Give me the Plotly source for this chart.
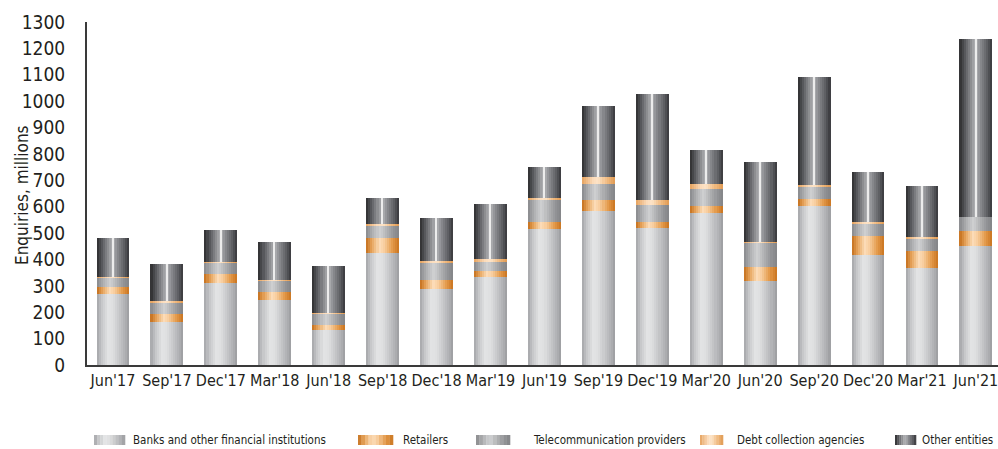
import plotly.graph_objects as go

categories = ["Jun'17", "Sep'17", "Dec'17", "Mar'18", "Jun'18", "Sep'18", "Dec'18", "Mar'19",
              "Jun'19", "Sep'19", "Dec'19", "Mar'20", "Jun'20", "Sep'20", "Dec'20", "Mar'21", "Jun'21"]

banks = [269, 164, 311, 246, 133, 424, 288, 334, 516, 584, 519, 576, 318, 603, 417, 369, 452]
retailers = [27, 29, 35, 32, 19, 57, 34, 22, 26, 41, 23, 27, 53, 26, 72, 63, 56]
telecom = [34, 43, 41, 44, 45, 49, 66, 36, 87, 61, 64, 65, 95, 49, 49, 49, 53]
debt = [2, 7, 2, 1, 1, 5, 6, 11, 5, 27, 19, 18, 1, 4, 4, 5, 1]
other = [148, 140, 123, 143, 177, 98, 163, 207, 116, 269, 402, 129, 303, 410, 190, 193, 674]

series_names = ["Banks and other financial institutions", "Retailers", "Telecommunication providers",
                "Debt collection agencies", "Other entities"]
series_values = [banks, retailers, telecom, debt, other]
y_title = "Enquiries, millions"

# gradient stops across the bar width (fraction, colour)
gradients = [
    [(0.0, "#a4a5a8"), (0.15, "#c6c7c9"), (0.35, "#e3e4e5"), (0.5, "#dedfe0"), (0.72, "#c3c4c6"), (0.9, "#acadb0"), (1.0, "#9a9b9e")],
    [(0.0, "#c46f1c"), (0.18, "#e6a45c"), (0.4, "#fcdcb8"), (0.55, "#f7cc9c"), (0.8, "#e29848"), (1.0, "#c97520")],
    [(0.0, "#88898c"), (0.25, "#b8b9bb"), (0.42, "#d0d1d2"), (0.6, "#b4b5b7"), (0.85, "#909194"), (1.0, "#838487")],
    [(0.0, "#e5a25e"), (0.35, "#fbdcbc"), (0.5, "#fde4c8"), (0.75, "#f0bb82"), (1.0, "#e09a52")],
    [(0.0, "#2c2c2e"), (0.18, "#5e5f63"), (0.42, "#a3a4a7"), (0.5, "#b0b1b4"), (0.62, "#8e8f93"), (0.85, "#5e5f63"), (1.0, "#37373a")],
]

BAR_W = 0.61
NSTRIP = 16


def hex2rgb(h):
    h = h.lstrip("#")
    return tuple(int(h[i:i + 2], 16) for i in (0, 2, 4))


def interp(stops, t):
    for (t0, c0), (t1, c1) in zip(stops[:-1], stops[1:]):
        if t0 <= t <= t1:
            a = 0 if t1 == t0 else (t - t0) / (t1 - t0)
            r0, g0, b0 = hex2rgb(c0)
            r1, g1, b1 = hex2rgb(c1)
            return "rgb(%d,%d,%d)" % (round(r0 + (r1 - r0) * a), round(g0 + (g1 - g0) * a), round(b0 + (b1 - b0) * a))
    return stops[-1][1]


fig = go.Figure()

base = [0] * len(categories)
for name, vals, stops in zip(series_names, series_values, gradients):
    sw = BAR_W / NSTRIP
    for k in range(NSTRIP):
        t = (k + 0.5) / NSTRIP
        fig.add_trace(go.Bar(
            x=categories, y=vals, base=base,
            width=[sw] * len(categories), offset=[-BAR_W / 2 + k * sw] * len(categories),
            marker=dict(color=interp(stops, t), line=dict(width=0)),
            name=name, showlegend=False, hoverinfo="skip",
        ))
    if name == "Other entities":
        hw = 0.025
        fig.add_trace(go.Bar(
            x=categories, y=vals, base=base,
            width=[hw] * len(categories), offset=[-0.015] * len(categories),
            marker=dict(color="#ececec", line=dict(width=0)),
            name=name, showlegend=False, hoverinfo="skip",
        ))
    base = [b + v for b, v in zip(base, vals)]

FONT = "DejaVu Sans Condensed, DejaVu Sans, sans-serif"
TXT = "#231f20"

W, H = 998, 449
PL, PT, PB = 87, 22, 365


def px(x):
    return (x - PL) / (W - PL)


def py(y):
    return (PB - y) / (PB - PT)


# manual legend (gradient swatches + labels)
legend_items = [
    (94, 31, 131),
    (358, 35, 401),
    (476, 34, 531),
    (700, 23, 735),
    (895, 21, 920),
]
shapes = []
annotations = []
for (x0, w, tx), name, stops in zip(legend_items, series_names, gradients):
    n = 10
    for k in range(n):
        xa = x0 + w * k / n
        xb = x0 + w * (k + 1) / n + 0.3
        shapes.append(dict(type="rect", xref="paper", yref="paper",
                           x0=px(xa), x1=px(xb), y0=py(445), y1=py(435),
                           fillcolor=interp(stops, (k + 0.5) / n), line=dict(width=0), layer="above"))
    annotations.append(dict(text=name, xref="paper", yref="paper",
                            x=px(tx), y=py(440),
                            xanchor="left", yanchor="middle", showarrow=False,
                            font=dict(family=FONT, size=11.5, color=TXT)))

annotations.append(dict(text=y_title, xref="paper", yref="paper", x=px(22), y=py(195),
                        xanchor="center", yanchor="middle", textangle=-90, showarrow=False,
                        font=dict(family=FONT, size=17, color=TXT)))

fig.update_layout(
    width=W, height=H,
    margin=dict(l=PL, r=0, t=PT, b=H - PB),
    paper_bgcolor="white", plot_bgcolor="white",
    barmode="overlay", bargap=0, bargroupgap=0,
    showlegend=False,
    font=dict(family=FONT, color=TXT),
    shapes=shapes, annotations=annotations,
    xaxis=dict(
        type="category", range=[-0.482, 16.41],
        showline=True, linecolor="#3a3a3a", linewidth=2,
        showgrid=False, zeroline=False, ticks="",
        tickfont=dict(family=FONT, size=16, color=TXT),
    ),
    yaxis=dict(
        range=[0, 1300], dtick=100, tick0=0,
        showline=True, linecolor="#3a3a3a", linewidth=2,
        showgrid=False, zeroline=False, ticks="",
        ticklabelstandoff=16,
        tickfont=dict(family=FONT, size=19, color=TXT),
    ),
)

fig.write_html("out.html")
